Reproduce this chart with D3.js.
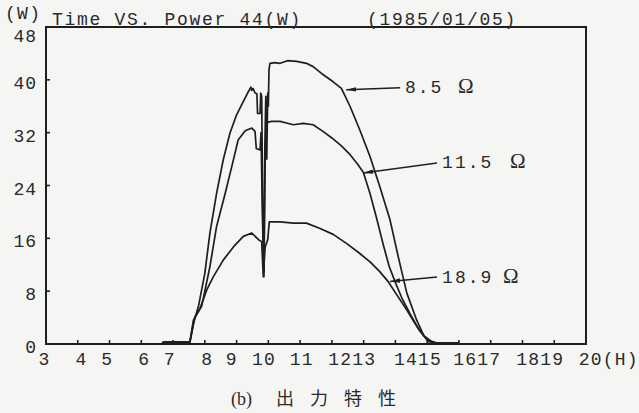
<!DOCTYPE html>
<meta charset="utf-8">
<html>
<head>
    <title>Time VS. Power</title>
    <style>
        body { margin: 0; background: #f5f5f3; }
        svg { display: block; }
        svg text { font-family: "Liberation Mono", monospace; fill: #2a2a2a; }
    </style>
    <script src="https://d3js.org/d3.v7.min.js"></script>
</head>
<body>
<div id="chart"></div>
<script>
    // curves, [hour, W]
    const load85 = [[6.65, 0], [6.7, 0.3], [7.53, 0.3], [7.64, 3.1], [7.8, 5.7], [8.0, 10.7], [8.16, 16.8],
        [8.37, 22.8], [8.58, 27.9], [8.79, 31.9], [9.0, 34.7], [9.21, 36.7], [9.37, 38.2], [9.45, 38.9],
        [9.48, 38.4], [9.52, 38.7], [9.58, 38.0], [9.64, 37.9], [9.66, 34.9], [9.74, 34.9], [9.76, 38.0],
        [9.79, 37.5], [9.82, 22], [9.86, 10.2], [9.89, 30], [9.92, 37.5], [9.95, 28], [9.98, 38], [10.0, 36],
        [10.02, 41.5], [10.05, 42.5], [10.2, 42.6], [10.37, 42.5], [10.6, 42.9], [10.89, 42.8], [11.2, 42.5],
        [11.41, 42.0], [11.72, 40.8], [12.04, 39.7], [12.3, 38.7], [12.57, 36.0], [12.88, 32.4], [13.2, 28.4],
        [13.51, 23.8], [13.83, 18.8], [14.09, 13.2], [14.36, 7.7], [14.67, 3.6], [14.9, 1.2], [15.14, 0.4],
        [15.3, 0.15], [16.0, 0.15]];
    const load115 = [[6.65, 0], [6.7, 0.3], [7.53, 0.3], [7.69, 4.1], [7.9, 5.7], [8.16, 11.7], [8.37, 17.8],
        [8.64, 22.8], [8.85, 26.9], [9.05, 30.9], [9.27, 32.3], [9.48, 32.7], [9.58, 32.2], [9.62, 29.6],
        [9.74, 29.4], [9.77, 32.0], [9.81, 20], [9.86, 11], [9.9, 28], [9.94, 33.4], [10.0, 33.6], [10.1, 33.7],
        [10.37, 33.7], [10.79, 33.2], [11.1, 33.4], [11.41, 33.2], [11.72, 32.2], [12.0, 31.2], [12.3, 30.0],
        [12.55, 28.8], [12.8, 27.3], [12.99, 26.0], [13.2, 22.8], [13.4, 19.2], [13.62, 15.0], [13.8, 11.8],
        [13.99, 9.4], [14.2, 7.0], [14.46, 4.6], [14.7, 2.5], [14.93, 1.1], [15.1, 0.4], [15.3, 0.15], [16.0, 0.15]];
    const load189 = [[6.65, 0], [6.7, 0.3], [7.53, 0.3], [7.64, 3.6], [7.85, 5.4], [8.06, 8.2], [8.27, 10.2],
        [8.58, 12.7], [8.9, 14.7], [9.21, 16.3], [9.48, 16.8], [9.69, 15.8], [9.79, 15.5], [9.84, 10.2],
        [9.9, 14.7], [9.98, 15.8], [10.03, 18.5], [10.37, 18.5], [10.79, 18.3], [11.2, 18.3], [11.63, 17.5],
        [12.04, 16.6], [12.47, 15.2], [12.88, 13.7], [13.21, 12.4], [13.5, 11.0], [13.78, 9.4], [14.05, 7.4],
        [14.36, 5.15], [14.58, 3.4], [14.78, 1.9], [15.04, 0.35], [15.3, 0.15], [16.0, 0.15]];

    const loadNames = ["8.5", "11.5", "18.9"];
    // label text start / baseline, omega position, arrow tail and head (hour, W)
    const labelAt = [[14.30, 38.0], [15.47, 26.67], [15.47, 9.24]];
    const omegaAt = [15.97, 17.61, 17.39];
    const arrowFrom = [[14.15, 38.8], [15.31, 27.4], [15.31, 10.15]];
    const arrowTo = [[12.45, 38.5], [12.98, 25.9], [13.83, 9.47]];

    const yTicks = [0, 8, 16, 24, 32, 40, 48];
    const xTicks = [4, 5, 6, 7, 8, 9, 10, 11, 12, 13, 14, 15, 16, 17, 18, 19];
    const xLabels = ["3", "4", "5", "6", "7", "8", "9", "10", "11", "1213", "1415", "1617", "1819", "20(H)"];
    const xLabelAt = [2.95, 4.12, 4.93, 6.09, 6.9, 8.08, 8.85, 9.86, 11.05, 12.64, 14.71, 16.58, 18.56, 20.72];

    var width = 639, height = 413;

    var svg = d3.select("#chart")
        .append("svg")
        .attr("width", width)
        .attr("height", height);

    var x = d3.scaleLinear().domain([3, 20]).range([46, 586]);
    var y = d3.scaleLinear().domain([0, 48]).range([344, 27]);

    var ink = "#1e1e1e";

    // frame
    svg.append("rect")
        .attr("x", x(3)).attr("y", y(48))
        .attr("width", x(20) - x(3)).attr("height", y(0) - y(48))
        .attr("fill", "none").attr("stroke", ink).attr("stroke-width", 2);

    // inward ticks
    svg.append("g").selectAll("line")
        .data(xTicks).enter().append("line")
        .attr("x1", d => x(d)).attr("x2", d => x(d))
        .attr("y1", y(0)).attr("y2", y(0) - 4)
        .attr("stroke", ink).attr("stroke-width", 1.6);

    svg.append("g").selectAll("line")
        .data(yTicks.slice(1, -1)).enter().append("line")
        .attr("x1", x(3)).attr("x2", x(3) + 4)
        .attr("y1", d => y(d)).attr("y2", d => y(d))
        .attr("stroke", ink).attr("stroke-width", 1.6);

    // tick labels (the top one sits a little lower, under the (W))
    svg.append("g").selectAll("text")
        .data(yTicks).enter().append("text")
        .attr("x", 37)
        .attr("y", d => y(d) + (d === 48 ? 15 : 9))
        .attr("text-anchor", "end")
        .style("font-size", "18px")
        .style("letter-spacing", "1px")
        .text(d => d);

    svg.append("g").selectAll("text")
        .data(xLabels).enter().append("text")
        .attr("x", (d, i) => x(xLabelAt[i]))
        .attr("y", y(0) + 21)
        .attr("text-anchor", "middle")
        .style("font-size", "18px")
        .style("letter-spacing", "1.2px")
        .text(d => d);

    // titles
    svg.append("text").attr("x", 5).attr("y", 19)
        .style("font-size", "18px").style("letter-spacing", "1.3px").text("(W)");
    svg.append("text").attr("x", 52).attr("y", 25)
        .style("font-size", "18px").style("letter-spacing", "1.7px").text("Time VS. Power 44(W)");
    svg.append("text").attr("x", 367).attr("y", 25)
        .style("font-size", "18px").style("letter-spacing", "1.7px").text("(1985/01/05)");

    // curves
    var line = d3.line().x(d => x(d[0])).y(d => y(d[1]));
    svg.append("g").selectAll("path")
        .data([load85, load115, load189]).enter().append("path")
        .attr("d", line)
        .attr("fill", "none")
        .attr("stroke", ink)
        .attr("stroke-width", 1.7)
        .attr("stroke-linejoin", "round");

    // arrows and labels
    svg.append("defs").append("marker")
        .attr("id", "head")
        .attr("viewBox", "0 0 10 6")
        .attr("refX", 10).attr("refY", 3)
        .attr("markerWidth", 10).attr("markerHeight", 6)
        .attr("markerUnits", "userSpaceOnUse")
        .attr("orient", "auto")
        .append("path")
        .attr("d", "M0,0.8L10,3L0,5.2Z")
        .attr("fill", ink);

    var ann = svg.append("g").selectAll("g")
        .data(loadNames).enter().append("g");

    ann.append("line")
        .attr("x1", (d, i) => x(arrowFrom[i][0])).attr("y1", (d, i) => y(arrowFrom[i][1]))
        .attr("x2", (d, i) => x(arrowTo[i][0])).attr("y2", (d, i) => y(arrowTo[i][1]))
        .attr("stroke", ink).attr("stroke-width", 1.5)
        .attr("marker-end", "url(#head)");

    ann.append("text")
        .attr("x", (d, i) => x(labelAt[i][0])).attr("y", (d, i) => y(labelAt[i][1]))
        .style("font-size", "18px").style("letter-spacing", "2px")
        .text(d => d);

    ann.append("text")
        .attr("x", (d, i) => x(omegaAt[i])).attr("y", (d, i) => y(labelAt[i][1]))
        .style("font-family", "'Liberation Serif', serif")
        .style("font-size", "21px")
        .text("Ω");

    // caption
    svg.append("text").attr("x", 231).attr("y", 405)
        .style("font-family", "'Liberation Serif', serif").style("font-size", "18px")
        .text("(b)");
    svg.append("text").attr("x", 276).attr("y", 405)
        .style("font-family", "'Noto Sans CJK JP', sans-serif").style("font-size", "18px")
        .style("letter-spacing", "16px")
        .text("出力特性");
</script>
</body>
</html>
